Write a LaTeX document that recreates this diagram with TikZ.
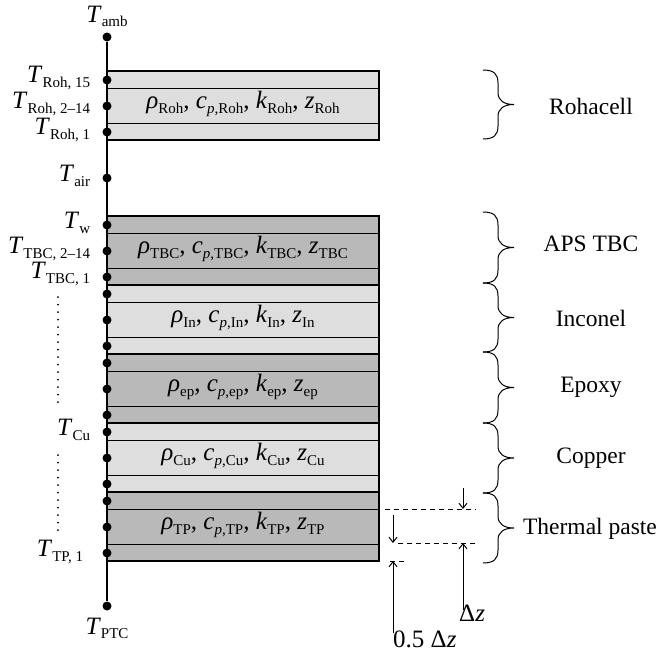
\documentclass[tikz,border=0pt]{standalone}
\usepackage{fontspec}
\setmainfont{Liberation Serif}
\usepackage{tikz}
\usetikzlibrary{arrows.meta,positioning}
\definecolor{Light}{HTML}{DEDEDE}
\definecolor{Dark}{HTML}{B9B9B9}
\newcommand{\sub}[1]{\raisebox{-4.5pt}{\fontsize{15}{16}\selectfont #1}}
\newcommand{\Tsub}[1]{\textit{T}\sub{#1}}
\newcommand{\props}[1]{\textit{ρ}\sub{#1}, \textit{c}\sub{\textit{p},#1}, \textit{k}\sub{#1}, \textit{z}\sub{#1}}
\newcommand{\brc}[2]{\draw[line width=1pt] (483,#1) .. controls (494,#1) and (498,#1+4) .. (498,#1+13) -- (498,{(#1+#2)/2-12}) .. controls (498,{(#1+#2)/2-4}) and (504,{(#1+#2)/2}) .. (514,{(#1+#2)/2}) .. controls (504,{(#1+#2)/2}) and (498,{(#1+#2)/2+4}) .. (498,{(#1+#2)/2+12}) -- (498,#2-13) .. controls (498,#2-4) and (494,#2) .. (483,#2);}

\begin{document}
\begin{tikzpicture}[x=1pt,y=-1pt,font=\fontsize{25}{27}\selectfont,>={Straight Barb[length=5pt,width=8pt]},node distance=12pt,
  dot/.style={circle,fill,inner sep=0pt,minimum size=9pt},
  tlbl/.style={inner sep=0pt},
  matlbl/.style={inner sep=0pt,font=\fontsize{23.5}{26}\selectfont},
  dimln/.style={line width=0.9pt,dash pattern=on 5pt off 4pt}]
  \useasboundingbox (0,0) rectangle (662,657);
  \foreach \t/\c/\m in {71/Light/Roh,216/Dark/TBC,285/Light/In,354/Dark/ep,423/Light/Cu,492/Dark/TP}{
    \fill[\c] (107,\t) rectangle (379,\t+69);
    \draw[line width=1pt] (107,\t+17.5) -- (379,\t+17.5) (107,\t+52) -- (379,\t+52);
    \node at (243,\t+33) {\props{\m}};
    \node[dot] (\m-a) at (107,\t+9) {};
    \node[dot] (\m-b) at (107,\t+35) {};
    \node[dot] (\m-c) at (107,\t+61) {};
  }
  \draw[line width=1.2pt] (107,71) rectangle (379,140) (107,216) rectangle (379,561);
  \foreach \y in {285,354,423,492}
    \draw[line width=1.8pt] (107,\y) -- (379,\y);
  \node[dot] (amb) at (107,37) {};
  \node[dot] (air) at (107,178) {};
  \node[dot] (ptc) at (107,606) {};
  \draw[line width=1.3pt] (amb) -- (ptc);

  \node[tlbl,above=5pt of amb] {\Tsub{amb}};
  \node[tlbl,below=7pt of ptc] {\Tsub{PTC}};
  \node[tlbl,left=of Roh-a,yshift=2pt] {\Tsub{Roh, 15}};
  \node[tlbl,left=of Roh-b,yshift=2pt] {\Tsub{Roh, 2–14}};
  \node[tlbl,left=of Roh-c,yshift=2pt] {\Tsub{Roh, 1}};
  \node[tlbl,left=of air,yshift=2pt] {\Tsub{air}};
  \node[tlbl,left=of TBC-a,yshift=2pt] {\Tsub{w}};
  \node[tlbl,left=of TBC-b,yshift=2pt] {\Tsub{TBC, 2–14}};
  \node[tlbl,left=of TBC-c,yshift=3pt] {\Tsub{TBC, 1}};
  \node[tlbl,left=of Cu-a,yshift=2pt] {\Tsub{Cu}};
  \node[tlbl,left=19pt of TP-c,yshift=1pt] {\Tsub{TP, 1}};
  \draw[line width=2pt,line cap=round,dash pattern=on 0pt off 7.5pt] (58,297) -- (58,405) (58,455) -- (58,533);

  \brc{70}{139}
  \brc{212}{283}
  \brc{283}{352}
  \brc{352}{423}
  \brc{423}{493}
  \brc{493}{563}
  \node[matlbl] at (591,106) {Rohacell};
  \node[matlbl] at (591,244) {APS TBC};
  \node[matlbl] at (591,318) {Inconel};
  \node[matlbl] at (591,387) {Epoxy};
  \node[matlbl] at (591,458) {Copper};
  \node[matlbl] at (590,529) {Thermal paste};

  \coordinate (up1) at (385,509);
  \coordinate (up2) at (476,509);
  \coordinate (lo1) at (398,543);
  \coordinate (lo2) at (476,543);
  \coordinate (bt1) at (390,561);
  \coordinate (bt2) at (405,561);
  \draw[dimln] (up1) -- (up2) (lo1) -- (lo2) (bt1) -- (bt2);
  \coordinate (dza) at (463,488);
  \coordinate (dzb) at (463,610);
  \coordinate (hza) at (393,515);
  \coordinate (hzb) at (393,633);
  \draw[->,line width=1pt] (dza) -- (dza |- up2);
  \draw[->,line width=1pt] (dzb) -- (dzb |- lo2);
  \draw[->,line width=1pt] (hza) -- (hza |- lo2);
  \draw[->,line width=1pt] (hzb) -- (hzb |- bt2);
  \node[tlbl,anchor=north west] (dz) at (459,605) {Δ\textit{z}};
  \node[tlbl,anchor=north west] (hz) at (393,631) {0.5 Δ\textit{z}};
\end{tikzpicture}
\end{document}
